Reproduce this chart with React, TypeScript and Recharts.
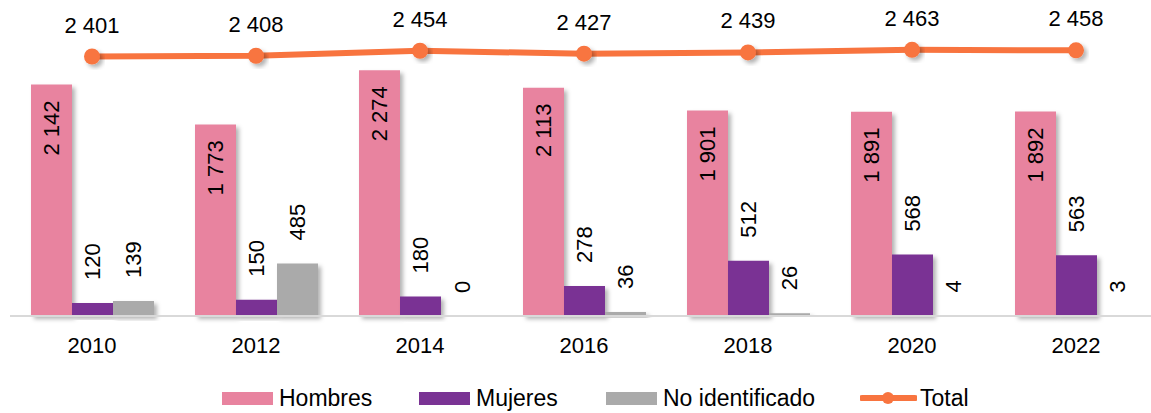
import React from 'react';
import {
  ComposedChart,
  Bar,
  Line,
  XAxis,
  YAxis,
  Legend,
  LabelList,
  Rectangle,
} from 'recharts';

const years = ['2010', '2012', '2014', '2016', '2018', '2020', '2022'];
const hombres = [2142, 1773, 2274, 2113, 1901, 1891, 1892];
const mujeres = [120, 150, 180, 278, 512, 568, 563];
const noIdentificado = [139, 485, 0, 36, 26, 4, 3];
const total = [2401, 2408, 2454, 2427, 2439, 2463, 2458];

const data = years.map((year, i) => ({
  year,
  hombres: hombres[i],
  mujeres: mujeres[i],
  noId: noIdentificado[i],
  total: total[i],
}));

const PINK = '#E8839F';
const PURPLE = '#7A3394';
const GRAY = '#AAAAAA';
const ORANGE = '#F8743F';
const FONT = "'Liberation Sans', Arial, sans-serif";

const fmt = (v: number) => String(v).replace(/\B(?=(\d{3})+(?!\d))/g, ' ');

const ShadowBar = (props: any) => <Rectangle {...props} filter="url(#barShadow)" />;

// label inside the top of the bar, reading upward
const InsideLabel = (props: any) => {
  const { x, y, width, value } = props;
  const cx = x + width / 2 + 8;
  const ty = y + 16;
  return (
    <text x={cx} y={ty} transform={`rotate(-90, ${cx}, ${ty})`} textAnchor="end" fontSize={22} fontFamily={FONT} fill="#000">
      {fmt(value)}
    </text>
  );
};

// label above the bar, reading upward
const AboveLabel = (props: any) => {
  const { x, y, width, height, value } = props;
  const top = Math.min(y, y + height);
  const cx = x + width / 2 + 8;
  const ty = top - 23;
  return (
    <text x={cx} y={ty} transform={`rotate(-90, ${cx}, ${ty})`} textAnchor="start" fontSize={22} fontFamily={FONT} fill="#000">
      {fmt(value)}
    </text>
  );
};

const TotalLabel = (props: any) => {
  const { x, y, value } = props;
  return (
    <text x={x} y={y - 24} textAnchor="middle" fontSize={22} fontFamily={FONT} fill="#000">
      {fmt(value)}
    </text>
  );
};

const legendItems = [
  { label: 'Hombres', color: PINK, left: 222, type: 'rect' },
  { label: 'Mujeres', color: PURPLE, left: 419, type: 'rect' },
  { label: 'No identificado', color: GRAY, left: 606, type: 'rect' },
  { label: 'Total', color: ORANGE, left: 860, type: 'line' },
];

const renderLegend = () => (
  <div style={{ position: 'relative', height: 30, fontFamily: FONT, fontSize: 23, color: '#000' }}>
    {legendItems.map((item) => (
      <div key={item.label} style={{ position: 'absolute', left: item.left, top: 0, height: 30, display: 'flex', alignItems: 'center', whiteSpace: 'nowrap' }}>
        {item.type === 'rect' ? (
          <span style={{ display: 'inline-block', width: 51, height: 13, background: item.color, marginRight: 6 }} />
        ) : (
          <svg width={57} height={16} style={{ marginRight: 3 }}>
            <line x1={2} y1={8} x2={55} y2={8} stroke={item.color} strokeWidth={6} strokeLinecap="round" />
            <circle cx={28} cy={8} r={6} fill={item.color} />
          </svg>
        )}
        <span>{item.label}</span>
      </div>
    ))}
  </div>
);

export default function App() {
  return (
    <div style={{ position: 'absolute', left: 0, top: 0, width: 1151, height: 413, overflow: 'hidden', background: '#fff' }}>
      <ComposedChart
        width={1160}
        height={413}
        data={data}
        margin={{ top: 35, right: 2, bottom: 0, left: 10 }}
        barGap={0}
      >
        <defs>
          <filter id="barShadow" x="-20%" y="-20%" width="150%" height="150%">
            <feDropShadow dx={3} dy={3} stdDeviation={2} floodColor="#000" floodOpacity={0.3} />
          </filter>
        </defs>
        <XAxis
          dataKey="year"
          axisLine={{ stroke: '#D9D9D9', strokeWidth: 2 }}
          tickLine={false}
          tickSize={0}
          tickMargin={21}
          height={67}
          tick={{ fill: '#000', fontSize: 22, fontFamily: FONT }}
        />
        <YAxis hide domain={[0, 2600]} />
        <Legend verticalAlign="bottom" content={renderLegend} wrapperStyle={{ left: 0, width: 1160, height: 30 }} />
        <Bar dataKey="hombres" name="Hombres" fill={PINK} barSize={41} shape={ShadowBar} isAnimationActive={false}>
          <LabelList dataKey="hombres" content={InsideLabel} />
        </Bar>
        <Bar dataKey="mujeres" name="Mujeres" fill={PURPLE} barSize={41} shape={ShadowBar} isAnimationActive={false}>
          <LabelList dataKey="mujeres" content={AboveLabel} />
        </Bar>
        <Bar dataKey="noId" name="No identificado" fill={GRAY} barSize={41} shape={ShadowBar} isAnimationActive={false}>
          <LabelList dataKey="noId" content={AboveLabel} />
        </Bar>
        <Line
          dataKey="total"
          name="Total"
          stroke={ORANGE}
          strokeWidth={6}
          dot={{ r: 8, fill: ORANGE, stroke: ORANGE, strokeWidth: 0, filter: 'url(#barShadow)' }}
          activeDot={false}
          isAnimationActive={false}
        >
          <LabelList dataKey="total" content={TotalLabel} />
        </Line>
      </ComposedChart>
    </div>
  );
}
